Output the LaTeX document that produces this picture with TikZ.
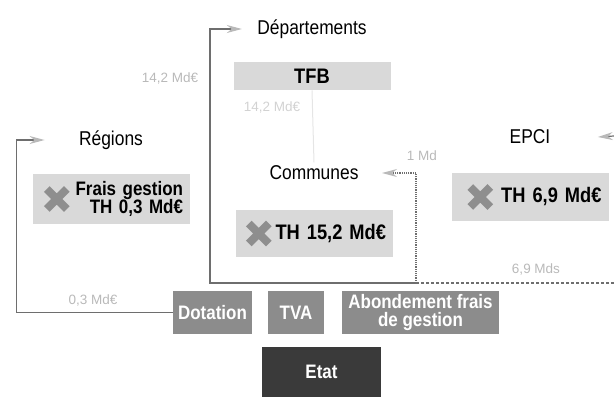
\documentclass[tikz,border=0pt]{standalone}
\usepackage{fontspec}
\setmainfont{Liberation Sans}
\newfontfamily\narrowfont[FakeStretch=0.87]{Liberation Sans}
\usepackage{tikz}
\usepackage{xcolor}
\usetikzlibrary{arrows.meta, positioning, shapes.misc}

\definecolor{taxgray}{HTML}{D9D9D9}
\definecolor{fundgray}{HTML}{8C8C8C}
\definecolor{stategray}{HTML}{3A3A3A}
\definecolor{crossgray}{HTML}{8E8E8E}
\definecolor{linegray}{HTML}{6E6E6E}

\begin{document}
\begin{tikzpicture}[
    x=1pt, y=-1pt,
    heading/.style={font=\narrowfont\fontsize{20}{22}\selectfont},
    taxbox/.style={rectangle, fill=taxgray, minimum width=157pt, minimum height=48pt, text width=143pt, align=right, inner sep=7pt, font=\narrowfont\bfseries\fontsize{21}{19}\selectfont},
    fund/.style={rectangle, fill=fundgray, text=white, minimum height=43pt, align=center, inner sep=2pt, font=\narrowfont\bfseries\fontsize{19.5}{18}\selectfont},
    cross/.style={cross out, draw=crossgray, line width=8pt, minimum size=20pt, inner sep=0pt, outer sep=0pt},
    amount/.style={text=gray!55, font=\fontsize{13.5}{15}\selectfont},
    link/.style={draw=linegray, line width=1.2pt},
    arrow/.style={link, -{Stealth[length=15pt, width=8pt, color=gray!55]}}
]
\useasboundingbox (0,0) rectangle (614,397);

% collectivites
\node[heading] (dep) at (312,29) {Départements};
\node[heading] (reg) at (111,140) {Régions};
\node[heading] (com) at (314,173) {Communes};
\node[heading] (epci) at (530,137) {EPCI};

% impots
\node[taxbox, minimum height=28pt, align=center] (tfb) at (312,76) {TFB};
\node[taxbox, font=\narrowfont\bfseries\fontsize{19.5}{18.5}\selectfont] (threg) at (111.5,199) {Frais gestion\\TH 0,3 Md€};
\node[taxbox, minimum height=47pt] (thcom) at (314.5,233.5) {TH 15,2 Md€};
\node[taxbox] (thepci) at (530,197) {TH 6,9 Md€};
\node[cross] (xreg) at ([xshift=24pt]threg.west) {};
\node[cross] (xcom) at ([xshift=23pt]thcom.west) {};
\node[cross] (xepci) at ([xshift=29pt]thepci.west) {};

% financements
\node[fund, minimum width=79pt] (dot) at (212.5,312.5) {Dotation};
\node[fund, minimum width=56pt] (tva) at (296,312.5) {TVA};
\node[fund, minimum width=157pt] (abond) at (420.5,312.5) {Abondement frais\\de gestion};
\node[fund, fill=stategray, minimum width=119pt, minimum height=50pt] (etat) at (321.5,372) {Etat};

% montants
\node[amount] (m142) at (170,78) {14,2 Md€};
\node[amount, text=gray!35] (m142b) at (272,107) {14,2 Md€};
\node[amount] (m03) at (93,300) {0,3 Md€};
\node[amount] (m1) at (422,156) {1 Md};
\node[amount] (m69) at (536,269) {6,9 Mds};

% connexions
\coordinate (busE) at (614,283);
\coordinate (busM) at (416,283);
\coordinate (busW) at (210,283);
\coordinate (epcisrc) at (614,136);
\draw[link, densely dashed] (busE) -- (busM);
\draw[arrow] (busM) -- (busW) |- ([xshift=-12pt]dep.west);
\draw[arrow, densely dotted] (busM) |- ([xshift=20pt]com.east);
\draw[arrow] (dot.west) -- ++(-156,0) |- ([xshift=-31pt]reg.west);
\draw[arrow] (epcisrc) -- ([xshift=44pt]epci.east);
\draw[gray!20, line width=1pt] (tfb.south) -- (com.north);
\end{tikzpicture}
\end{document}
